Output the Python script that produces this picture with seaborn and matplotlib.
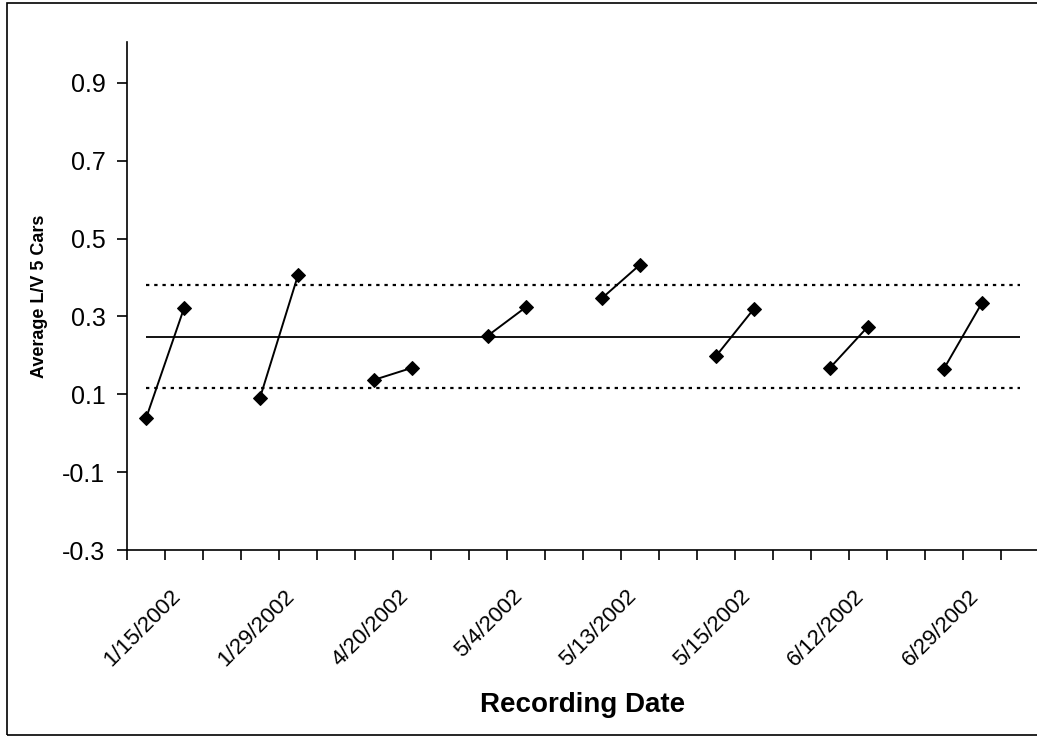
import matplotlib
matplotlib.use("Agg")
import matplotlib.pyplot as plt
from matplotlib.patches import Rectangle
from matplotlib.transforms import ScaledTranslation
import seaborn as sns
import pandas as pd
import numpy as np

# ---- data ----
dates = ['1/15/2002', '1/29/2002', '4/20/2002', '5/4/2002',
         '5/13/2002', '5/15/2002', '6/12/2002', '6/29/2002']
first_val = [0.038, 0.091, 0.137, 0.251, 0.347, 0.198, 0.168, 0.166]
second_val = [0.321, 0.406, 0.168, 0.324, 0.433, 0.320, 0.274, 0.335]
mean_level = 0.247
upper_level = 0.380
lower_level = 0.115
y_ticks = [-0.3, -0.1, 0.1, 0.3, 0.5, 0.7, 0.9]

sns.set_style("ticks", {'text.color': 'black', 'xtick.color': 'black',
                        'ytick.color': 'black', 'axes.labelcolor': 'black',
                        'axes.edgecolor': 'black'})
plt.rcParams['font.family'] = ['Liberation Sans', 'DejaVu Sans']

n_cat = 3 * len(dates)
rows = []
for i, d in enumerate(dates):
    rows.append({'pos': 3 * i, 'val': first_val[i], 'grp': d})
    rows.append({'pos': 3 * i + 1, 'val': second_val[i], 'grp': d})
df = pd.DataFrame(rows)

W, H = 1037, 743
fig = plt.figure(figsize=(W / 100, H / 100), dpi=100)
ax = fig.add_axes([127 / W, 1 - 550 / H, (1039 - 127) / W, (550 - 42) / H])

# outer frame
fig.patches.append(Rectangle((7 / W, 1 - 735 / H), 1.2, (735 - 3) / H,
                             transform=fig.transFigure, fill=False,
                             edgecolor='black', linewidth=1.2))

ax.hlines(mean_level, 0, n_cat - 1, color='black', linewidth=1.3)
ax.hlines([upper_level, lower_level], 0, n_cat - 1, color='black',
          linewidth=1.6, linestyles=[(0, (1.5, 2.2))])

sns.lineplot(data=df, x='pos', y='val', units='grp', estimator=None,
             color='black', linewidth=1.4, marker='D', markersize=7,
             markeredgecolor='black', ax=ax, legend=False)

ax.set_xlim(-0.5, n_cat - 0.5)
ax.set_ylim(-0.3, 1.005)
ax.set_yticks(y_ticks)
ax.set_yticklabels([f'{t:.1f}' for t in y_ticks], fontsize=18)

ax.set_xticks([3 * i + 1 for i in range(len(dates))])
ax.set_xticklabels(dates, rotation=45, ha='right', va='top',
                   rotation_mode='anchor', fontsize=16)
ax.set_xticks(np.arange(n_cat + 1) - 0.5, minor=True)
ax.tick_params(axis='x', which='major', length=0, pad=0)
ax.tick_params(axis='x', which='minor', length=7, width=1.2, color='black')
ax.tick_params(axis='y', length=7, width=1.2, color='black', pad=8.5)

for s in ['top', 'right']:
    ax.spines[s].set_visible(False)
for s in ['left', 'bottom']:
    ax.spines[s].set_color('black')
    ax.spines[s].set_linewidth(1.2)

ax.set_ylabel('Average L/V 5 Cars', fontsize=13, fontweight='bold')
ax.set_xlabel('Recording Date', fontsize=20, fontweight='bold')
ax.yaxis.set_label_coords(-0.087, 0.5)
ax.xaxis.set_label_coords(0.4995, -0.28)

offset = ScaledTranslation(-14 / 100, -36 / 100, fig.dpi_scale_trans)
for lab in ax.get_xticklabels():
    lab.set_transform(lab.get_transform() + offset)

fig.savefig('out.png', dpi=100)
